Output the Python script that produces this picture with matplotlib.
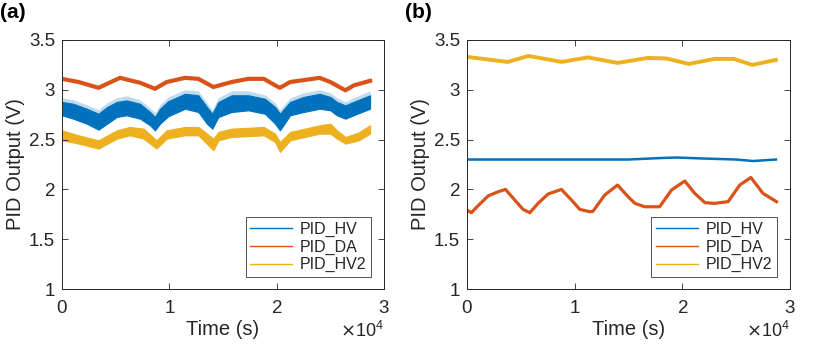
import matplotlib
matplotlib.use("Agg")
import matplotlib.pyplot as plt
from matplotlib.lines import Line2D
from matplotlib.ticker import ScalarFormatter

plt.rcParams['font.family'] = ['Liberation Sans', 'DejaVu Sans']

C_HV = '#0072BD'
C_DA = '#D95319'
C_HV2 = '#EDB120'
labels = ['PID_HV', 'PID_DA', 'PID_HV2']

# ---- Panel (a) ----
a_hv_t = [0, 1050, 2300, 3400, 4200, 5100, 6000, 7270, 8200, 8660,
          9130, 9900, 11460, 12700, 13500, 14000, 14570, 15800, 17360, 18900,
          19850, 20300, 21250, 22500, 24000, 25000, 25600, 26400, 27150, 28700]
a_hv_lo = [2.744, 2.71, 2.66, 2.60, 2.66, 2.727, 2.744, 2.71, 2.644, 2.593,
           2.66, 2.735, 2.81, 2.777, 2.66, 2.61, 2.727, 2.777, 2.794, 2.76,
           2.66, 2.593, 2.744, 2.777, 2.81, 2.794, 2.744, 2.71, 2.744, 2.81]
a_hv_hi = [2.878, 2.86, 2.81, 2.76, 2.827, 2.878, 2.894, 2.86, 2.777, 2.727,
           2.81, 2.886, 2.96, 2.945, 2.827, 2.76, 2.878, 2.945, 2.945, 2.91,
           2.827, 2.76, 2.878, 2.928, 2.96, 2.928, 2.878, 2.844, 2.878, 2.945]
a_hv_spike = [2.92, 2.90, 2.85, 2.80, 2.87, 2.92, 2.94, 2.90, 2.82, 2.77,
              2.85, 2.93, 3.00, 2.99, 2.87, 2.80, 2.92, 2.99, 2.99, 2.95,
              2.87, 2.80, 2.92, 2.97, 3.00, 2.97, 2.92, 2.88, 2.92, 2.99]

a_da_t = [0, 1550, 3400, 5400, 7300, 8660, 9750, 11460, 12700, 14100,
          15800, 17360, 18800, 19850, 20300, 21250, 24000, 25000, 26400, 27200, 28700]
a_da_v = [3.11, 3.078, 3.02, 3.12, 3.07, 3.01, 3.078, 3.12, 3.11, 3.028,
          3.078, 3.11, 3.11, 3.045, 3.02, 3.078, 3.12, 3.078, 2.995, 3.045, 3.09]

a_hv2_t = [0, 1550, 3400, 5100, 6300, 7600, 8800, 9750, 11460, 12700,
           14100, 14570, 15800, 18800, 19850, 20300, 21250, 24000, 25000, 25600,
           26400, 27600, 28700]
a_hv2_lo = [2.493, 2.46, 2.41, 2.51, 2.543, 2.51, 2.41, 2.51, 2.543, 2.543,
            2.393, 2.493, 2.526, 2.543, 2.476, 2.376, 2.493, 2.56, 2.56, 2.51,
            2.46, 2.49, 2.56]
a_hv2_hi = [2.593, 2.543, 2.493, 2.593, 2.627, 2.61, 2.493, 2.593, 2.627, 2.627,
            2.51, 2.577, 2.61, 2.627, 2.56, 2.476, 2.577, 2.644, 2.66, 2.594,
            2.526, 2.57, 2.644]

# ---- Panel (b) ----
b_hv_t = [0, 5000, 10000, 15000, 18000, 19500, 22000, 25000, 26600, 28700]
b_hv_v = [2.30, 2.30, 2.30, 2.30, 2.315, 2.32, 2.31, 2.30, 2.285, 2.30]

b_da_t = [100, 400, 1000, 1950, 2900, 3570, 4430, 5200, 5830, 6600, 7530, 8770, 9700,
          10470, 11400, 11700, 12800, 13980, 14960, 15600, 16500, 17900, 19000, 20230,
          21160, 22100, 23000, 24260, 25340, 26370, 27500, 28750]
b_da_v = [1.786, 1.766, 1.833, 1.934, 1.977, 2.0, 1.894, 1.80, 1.766, 1.86, 1.954, 2.0,
          1.894, 1.80, 1.776, 1.78, 1.944, 2.044, 1.927, 1.86, 1.826, 1.826, 1.994, 2.084,
          1.96, 1.867, 1.86, 1.877, 2.044, 2.12, 1.96, 1.877]

b_hv2_t = [0, 3800, 5700, 8800, 11200, 14000, 16800, 18500, 20600, 23000, 24800, 26500, 28700]
b_hv2_v = [3.33, 3.28, 3.34, 3.28, 3.325, 3.27, 3.32, 3.315, 3.26, 3.31, 3.31, 3.25, 3.30]

yticks = [1, 1.5, 2, 2.5, 3, 3.5]
ytick_labels = ['1', '1.5', '2', '2.5', '3', '3.5']
xticks = [0, 10000, 20000, 30000]

fig = plt.figure(figsize=(8.3, 3.46), dpi=100)
ax1 = fig.add_axes([0.0747, 0.1647, 0.388, 0.7197])
ax2 = fig.add_axes([0.5627, 0.1647, 0.389, 0.7197])

TXT = '#262626'


def style(ax):
    ax.set_xlim(0, 30000)
    ax.set_ylim(1, 3.5)
    ax.set_yticks(yticks)
    ax.set_yticklabels(ytick_labels)
    ax.set_xticks(xticks)
    fmt = ScalarFormatter(useMathText=True)
    fmt.set_powerlimits((0, 0))
    ax.xaxis.set_major_formatter(fmt)
    ax.xaxis.get_offset_text().set_fontsize(13)
    ax.xaxis.get_offset_text().set_color(TXT)
    ax.tick_params(direction='in', length=4, width=0.6, top=True, right=True,
                   labelsize=13.5, colors=TXT, pad=5)
    ax.tick_params(axis='x', pad=8)
    for s in ax.spines.values():
        s.set_color(TXT)
        s.set_linewidth(0.7)
    ax.set_xlabel('Time (s)', fontsize=14.5, color=TXT, labelpad=2)
    ax.set_ylabel('PID Output (V)', fontsize=14.5, color=TXT, labelpad=3)
    handles = [Line2D([], [], color=c, lw=1) for c in (C_HV, C_DA, C_HV2)]
    leg = ax.legend(handles, labels, loc='lower right', bbox_to_anchor=(0.96, 0.048),
                    borderaxespad=0, fontsize=11.5, frameon=True, fancybox=False,
                    edgecolor=TXT, handlelength=2.6, labelspacing=0.15,
                    borderpad=0.3, handletextpad=0.5)
    leg.get_frame().set_linewidth(0.7)
    for t in leg.get_texts():
        t.set_color(TXT)


# panel a
ax1.fill_between(a_hv_t, a_hv_hi, a_hv_spike, color=C_HV, alpha=0.25, lw=0)
ax1.fill_between(a_hv_t, a_hv_lo, a_hv_hi, color=C_HV, lw=0.8, edgecolor=C_HV)
ax1.plot(a_da_t, a_da_v, color=C_DA, lw=3.0)
ax1.fill_between(a_hv2_t, a_hv2_lo, a_hv2_hi, color=C_HV2, lw=0.8, edgecolor=C_HV2)
style(ax1)

# panel b
ax2.plot(b_hv_t, b_hv_v, color=C_HV, lw=1.8)
ax2.plot(b_da_t, b_da_v, color=C_DA, lw=2.3)
ax2.plot(b_hv2_t, b_hv2_v, color=C_HV2, lw=2.8)
style(ax2)

fig.text(0.0, 0.99, '(a)', fontsize=15, fontweight='bold', va='top', ha='left')
fig.text(0.488, 0.99, '(b)', fontsize=15, fontweight='bold', va='top', ha='left')

fig.savefig('out.png', dpi=100)
